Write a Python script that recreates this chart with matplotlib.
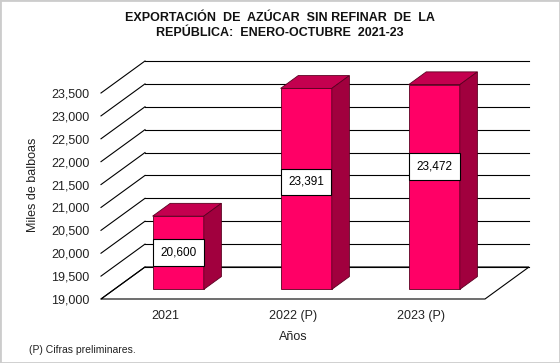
import matplotlib
matplotlib.use('Agg')
import matplotlib.pyplot as plt
from matplotlib.patches import Polygon, Rectangle
from matplotlib.lines import Line2D
from matplotlib.transforms import IdentityTransform, ScaledTranslation

# ---- data ----
categories = ['2021', '2022 (P)', '2023 (P)']
values = [20600, 23391, 23472]
value_labels = ['20,600', '23,391', '23,472']
y_ticks = [19000, 19500, 20000, 20500, 21000, 21500, 22000, 22500, 23000, 23500]
y_tick_labels = ['19,000', '19,500', '20,000', '20,500', '21,000',
                 '21,500', '22,000', '22,500', '23,000', '23,500']
title_lines = ['EXPORTACIÓN  DE  AZÚCAR  SIN REFINAR  DE  LA',
               'REPÚBLICA:  ENERO-OCTUBRE  2021-23']

# ---- style / layout ----
FRONT = '#FF0066'
TOP = '#C4004F'
SIDE = '#A1003E'
EDGE = '#5a0020'
label_frac = [0.50, 0.535, 0.60]
DX, DY = 0.44, 0.32          # full depth offset in inches
D0, D1 = 0.30, 0.70          # bar depth range
BW = 0.40                    # bar width (category units)

plt.rcParams['font.family'] = ['Liberation Sans', 'DejaVu Sans']
W, H = 560, 363
fig = plt.figure(figsize=(W / 100, H / 100), dpi=100)
ax = fig.add_axes([101 / W, 64 / H, 384 / W, 206 / H])
ax.set_xlim(-0.5, len(categories) - 0.5)
ax.set_ylim(y_ticks[0], y_ticks[-1])
for s in ax.spines.values():
    s.set_visible(False)
ax.patch.set_alpha(0)
ax.set_yticks(y_ticks)
ax.set_yticklabels(y_tick_labels, fontsize=9, color='#222222')
ax.set_xticks(range(len(categories)))
ax.set_xticklabels(categories, fontsize=9, color='#222222')
ax.tick_params(axis='y', length=0, pad=8.5)
ax.tick_params(axis='x', length=0, pad=8)

base = y_ticks[0]
xl, xr = ax.get_xlim()


def P(x, v, d):
    X, Y = ax.transData.transform((x, v))
    return (X + DX * d * fig.dpi, Y + DY * d * fig.dpi)


ident = IdentityTransform()


def poly(pts, fc, ec, lw, z):
    ax.add_patch(Polygon(pts, closed=True, facecolor=fc, edgecolor=ec,
                         linewidth=lw, transform=ident, clip_on=False, zorder=z))


def line(p, q, z=2, color='black', lw=0.8):
    ax.add_line(Line2D([p[0], q[0]], [p[1], q[1]], color=color, linewidth=lw,
                       transform=ident, clip_on=False, zorder=z))


# floor
poly([P(xl, base, 0), P(xr, base, 0), P(xr, base, 1), P(xl, base, 1)],
     'white', 'black', 0.8, 1)
# back wall gridlines and left wall diagonals
for v in y_ticks:
    line(P(xl, v, 1), P(xr, v, 1))
    line(P(xl, v, 0), P(xl, v, 1))

# bars
for i, v in enumerate(values):
    x0, x1 = i - BW / 2, i + BW / 2
    poly([P(x0, base, D0), P(x1, base, D0), P(x1, v, D0), P(x0, v, D0)],
         FRONT, EDGE, 0.6, 5)
    poly([P(x0, v, D0), P(x1, v, D0), P(x1, v, D1), P(x0, v, D1)],
         TOP, EDGE, 0.6, 5)
    poly([P(x1, base, D0), P(x1, base, D1), P(x1, v, D1), P(x1, v, D0)],
         SIDE, EDGE, 0.6, 5)
    tr = ax.transData + ScaledTranslation(DX * D0, DY * D0, fig.dpi_scale_trans)
    ax.text(i, base + (v - base) * label_frac[i], value_labels[i],
            transform=tr, ha='center', va='center', fontsize=8.5, zorder=10,
            bbox=dict(boxstyle='square,pad=0.62', facecolor='white',
                      edgecolor='black', linewidth=0.8))

# texts
fig.text(0.5, 1 - 18 / H, title_lines[0], ha='center', va='center',
         fontsize=9, fontweight='bold', color='#111111')
fig.text(0.5, 1 - 33.5 / H, title_lines[1], ha='center', va='center',
         fontsize=9, fontweight='bold', color='#111111')
fig.text(33 / W, 1 - 185 / H, 'Miles de balboas', rotation=90,
         ha='center', va='center', fontsize=9, color='#222222')
fig.text(293 / W, 1 - 337 / H, 'Años', ha='center', va='center',
         fontsize=9, color='#222222')
fig.text(29 / W, 1 - 350 / H, '(P) Cifras preliminares.', ha='left',
         va='center', fontsize=7.5, color='#222222')

fig.add_artist(Rectangle((0, 0), 1, 1, transform=fig.transFigure, fill=False,
                         edgecolor='#cccccc', linewidth=2))

fig.savefig('out.png', dpi=100)
